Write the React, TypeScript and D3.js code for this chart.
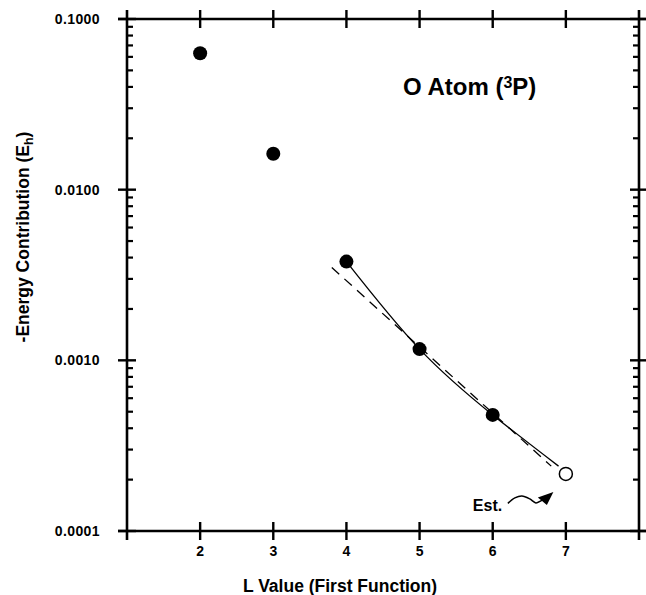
import React, { useRef, useEffect } from 'react';
import * as d3 from 'd3';

// L values and -energy contributions (Eh)
const lValues = [2, 3, 4, 5, 6];
const energies = [0.063, 0.01625, 0.00379, 0.001164, 0.000479];

// estimated (open circle) point
const estL = [7];
const estEnergy = [0.000216];

// solid fitted curve through L = 4..6
const curveL = [4, 5, 6, 6.9];
const curveEnergy = [0.00379, 0.001164, 0.000479, 0.00024];

// dashed straight fit line
const dashL = [3.8, 6.8];
const dashEnergy = [0.0035, 0.00024];

const xTicks = [2, 3, 4, 5, 6, 7];
const yTicks = [0.0001, 0.001, 0.01, 0.1];
const yTickLabels = ['0.0001', '0.0010', '0.0100', '0.1000'];

const W = 646;
const H = 595;
const FONT = '"Liberation Sans", Arial, Helvetica, sans-serif';

export default function App() {
	const ref = useRef<SVGSVGElement>(null);

	useEffect(() => {
		if (!ref.current) return;
		const svg = d3.select(ref.current);
		svg.selectAll('*').remove();

		const x = d3.scaleLinear().domain([1, 8]).range([127, 639]);
		const y = d3.scaleLog().domain([0.0001, 0.1]).range([531, 19]);

		const [x0, x1] = x.range();
		const [yb, yt] = y.range();
		const ext = 9;

		/* minor log ticks 2..9 in each decade */
		const minor: number[] = [];
		[0.0001, 0.001, 0.01].forEach((d) => {
			for (let k = 2; k <= 9; k++) minor.push(d * k);
		});

		const g = svg.append('g').attr('stroke', '#000').attr('stroke-linecap', 'butt');

		// frame, extending past the corners
		g.append('line').attr('x1', x0 - ext).attr('x2', x1 + ext).attr('y1', yt).attr('y2', yt).attr('stroke-width', 2.6);
		g.append('line').attr('x1', x0 - ext).attr('x2', x1 + ext).attr('y1', yb).attr('y2', yb).attr('stroke-width', 2.6);
		g.append('line').attr('x1', x0).attr('x2', x0).attr('y1', yt - ext).attr('y2', yb + ext).attr('stroke-width', 2.6);
		g.append('line').attr('x1', x1).attr('x2', x1).attr('y1', yt - ext).attr('y2', yb + ext).attr('stroke-width', 2.6);

		// x major ticks (cross both top and bottom axes)
		xTicks.forEach((t) => {
			[yt, yb].forEach((yy) => {
				g.append('line').attr('x1', x(t)).attr('x2', x(t)).attr('y1', yy - ext).attr('y2', yy + ext).attr('stroke-width', 2.4);
			});
		});

		// y major ticks crossing left and right axes
		yTicks.forEach((t) => {
			[x0, x1].forEach((xx) => {
				g.append('line').attr('x1', xx - ext).attr('x2', xx + ext).attr('y1', y(t)).attr('y2', y(t)).attr('stroke-width', 2.4);
			});
		});

		// minor ticks pointing inward
		minor.forEach((t) => {
			g.append('line').attr('x1', x0).attr('x2', x0 + 6).attr('y1', y(t)).attr('y2', y(t)).attr('stroke-width', 2.2);
			g.append('line').attr('x1', x1 - 6).attr('x2', x1).attr('y1', y(t)).attr('y2', y(t)).attr('stroke-width', 2.2);
		});

		// tick labels
		const labels = svg.append('g').attr('font-family', FONT).attr('font-weight', 'bold').attr('font-size', 14).attr('fill', '#000');
		yTicks.forEach((t, i) => {
			labels.append('text').attr('x', 100).attr('y', y(t)).attr('dy', '0.36em').attr('text-anchor', 'end').attr('letter-spacing', 0.4).text(yTickLabels[i]);
		});
		xTicks.forEach((t) => {
			labels.append('text').attr('x', x(t)).attr('y', 556).attr('text-anchor', 'middle').text(String(t));
		});

		// axis titles
		svg.append('text')
			.attr('x', 340)
			.attr('y', 592)
			.attr('text-anchor', 'middle')
			.attr('font-family', FONT)
			.attr('font-weight', 'bold')
			.attr('font-size', 17.5)
			.text('L Value (First Function)');

		const yt2 = svg.append('text')
			.attr('transform', 'translate(29,237) rotate(-90)')
			.attr('text-anchor', 'middle')
			.attr('font-family', FONT)
			.attr('font-weight', 'bold')
			.attr('font-size', 17.5);
		yt2.append('tspan').text('-Energy Contribution (E');
		yt2.append('tspan').attr('font-size', 12.5).attr('dy', 4).text('h');
		yt2.append('tspan').attr('dy', -4).text(')');

		// title
		const title = svg.append('text').attr('x', 403).attr('y', 95).attr('font-family', FONT).attr('font-weight', 'bold').attr('font-size', 24);
		title.append('tspan').text('O Atom (');
		title.append('tspan').attr('font-size', 16).attr('dy', -7).text('3');
		title.append('tspan').attr('dy', 7).text('P)');

		// dashed straight fit
		const line = d3
			.line<number>()
			.x((d) => x(d))
			.y((d, i) => y(dashEnergy[i]));
		svg.append('path').datum(dashL).attr('d', line).attr('fill', 'none').attr('stroke', '#000').attr('stroke-width', 1.3).attr('stroke-dasharray', '10,7');

		// solid curve
		const curve = d3
			.line<number>()
			.x((d) => x(d))
			.y((d, i) => y(curveEnergy[i]))
			.curve(d3.curveNatural);
		svg.append('path').datum(curveL).attr('d', curve).attr('fill', 'none').attr('stroke', '#000').attr('stroke-width', 1.3);

		// data points
		svg.append('g')
			.selectAll('circle')
			.data(lValues)
			.enter()
			.append('circle')
			.attr('cx', (d) => x(d))
			.attr('cy', (d, i) => y(energies[i]))
			.attr('r', 7)
			.attr('fill', '#000');

		svg.append('g')
			.selectAll('circle')
			.data(estL)
			.enter()
			.append('circle')
			.attr('cx', (d) => x(d))
			.attr('cy', (d, i) => y(estEnergy[i]))
			.attr('r', 6.5)
			.attr('fill', '#fff')
			.attr('stroke', '#000')
			.attr('stroke-width', 1.5);

		// "Est." annotation with squiggly arrow
		const ex = x(estL[0]);
		const ey = y(estEnergy[0]);
		svg.append('text')
			.attr('x', ex - 93)
			.attr('y', ey + 37.5)
			.attr('font-family', FONT)
			.attr('font-weight', 'bold')
			.attr('font-size', 16)
			.text('Est.');
		const squiggle = [
			[ex - 58, ey + 29.5],
			[ex - 51, ey + 24],
			[ex - 44, ey + 22],
			[ex - 36, ey + 25],
			[ex - 30, ey + 29],
			[ex - 25, ey + 27],
			[ex - 22, ey + 25],
		];
		svg.append('path')
			.attr('d', d3.line().curve(d3.curveCatmullRom)(squiggle as [number, number][]))
			.attr('fill', 'none')
			.attr('stroke', '#000')
			.attr('stroke-width', 1.5);
		svg.append('path')
			.attr('d', `M${ex - 12.5},${ey + 18} L${ex - 28},${ey + 23.5} L${ex - 19},${ey + 31} Z`)
			.attr('fill', '#000');
	}, []);

	return <svg ref={ref} width={W} height={H} style={{ position: 'absolute', left: 0, top: 0, background: '#fff' }} />;
}
